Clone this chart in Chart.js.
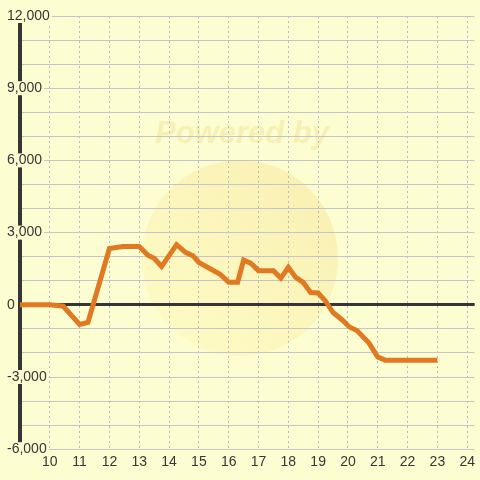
<!DOCTYPE html>
<html>
<head>
<meta charset="utf-8">
<script src="https://cdn.jsdelivr.net/npm/chart.js@4/dist/chart.umd.min.js"></script>
<style>
  html,body{margin:0;padding:0;background:#fdfdd2;}
  #wrap{width:480px;height:480px;}
</style>
</head>
<body>
<div id="wrap"><canvas id="pnl"></canvas></div>
<script>
// hour of day and running P&L
const hours = [9, 10, 10.45, 11, 11.28, 12, 12.45, 13, 13.3, 13.5, 13.75, 14.25, 14.55, 14.8, 15, 15.7,
  16, 16.3, 16.5, 16.75, 17, 17.5, 17.75, 18, 18.25, 18.5, 18.75, 19, 19.25, 19.5, 19.8, 20.05, 20.3,
  20.7, 21, 21.25, 23];
const pnl = [0, 0, -60, -820, -730, 2340, 2420, 2420, 2050, 1930, 1590, 2500, 2180, 2040, 1760, 1280,
  940, 940, 1860, 1720, 1420, 1420, 1110, 1560, 1140, 930, 510, 490, 150, -320, -620, -920, -1070,
  -1580, -2170, -2300, -2300];
const yMajor = [-6000, -3000, 0, 3000, 6000, 9000, 12000];

const BG = '#fdfdd2';
const GRID = '#c4c4cc';
const INK = '#363636';

// page background + faint watermark, under the grid
const backdrop = {
  id: 'backdrop',
  beforeDraw(chart){
    const c = chart.ctx;
    c.save();
    c.fillStyle = BG;
    c.fillRect(0, 0, chart.width, chart.height);
    const g = c.createLinearGradient(160, 340, 320, 180);
    g.addColorStop(0, 'rgba(255,245,170,0.35)');
    g.addColorStop(1, 'rgba(245,225,140,0.45)');
    c.fillStyle = g;
    c.beginPath();
    c.arc(240, 258, 98, 0, Math.PI*2);
    c.fill();
    c.font = 'italic bold 31px "Liberation Sans", Arial, sans-serif';
    c.fillStyle = 'rgba(235,215,120,0.32)';
    c.textAlign = 'center';
    c.textBaseline = 'middle';
    c.fillText('Powered by', 242, 134);
    c.restore();
  }
};

new Chart(document.getElementById('pnl'), {
  type: 'line',
  data: {
    datasets: [{
      data: hours.map((h, i) => ({x: h, y: pnl[i]})),
      borderColor: '#e07a22',
      borderWidth: 5,
      pointRadius: 0,
      tension: 0,
      fill: false
    }]
  },
  options: {
    responsive: true,
    maintainAspectRatio: false,
    animation: false,
    layout: {padding: {left: 20, top: 16, right: 0, bottom: 4}},
    plugins: {legend: {display: false}, tooltip: {enabled: false}},
    scales: {
      x: {
        type: 'linear',
        min: 9,
        max: 24.25,
        grid: {color: '#b8b8c4', lineWidth: 1, drawTicks: false},
        border: {display: false, dash: [2, 3]},
        ticks: {
          stepSize: 1,
          includeBounds: false,
          autoSkip: false,
          maxRotation: 0,
          padding: 5,
          color: INK,
          font: {family: '"Liberation Sans", Arial, sans-serif', size: 14},
          callback: v => v === 9 ? '' : String(v)
        }
      },
      y: {
        min: -6000,
        max: 12000,
        afterFit: s => { s.width = 0; },
        grid: {
          drawTicks: false,
          color: c => c.tick && c.tick.value === 0 ? INK : GRID,
          lineWidth: c => c.tick && c.tick.value === 0 ? 3 : 1
        },
        border: {display: true, color: INK, width: 4},
        ticks: {
          stepSize: 1000,
          mirror: true,
          padding: -13,
          color: INK,
          font: {family: '"Liberation Sans", Arial, sans-serif', size: 14, lineHeight: 1},
          showLabelBackdrop: c => yMajor.includes(c.tick.value),
          backdropColor: BG,
          backdropPadding: {top: 0, bottom: 0, left: 2, right: 2},
          callback: v => yMajor.includes(v) ? v.toLocaleString('en-US') : ''
        }
      }
    }
  },
  plugins: [backdrop]
});
</script>
</body>
</html>
